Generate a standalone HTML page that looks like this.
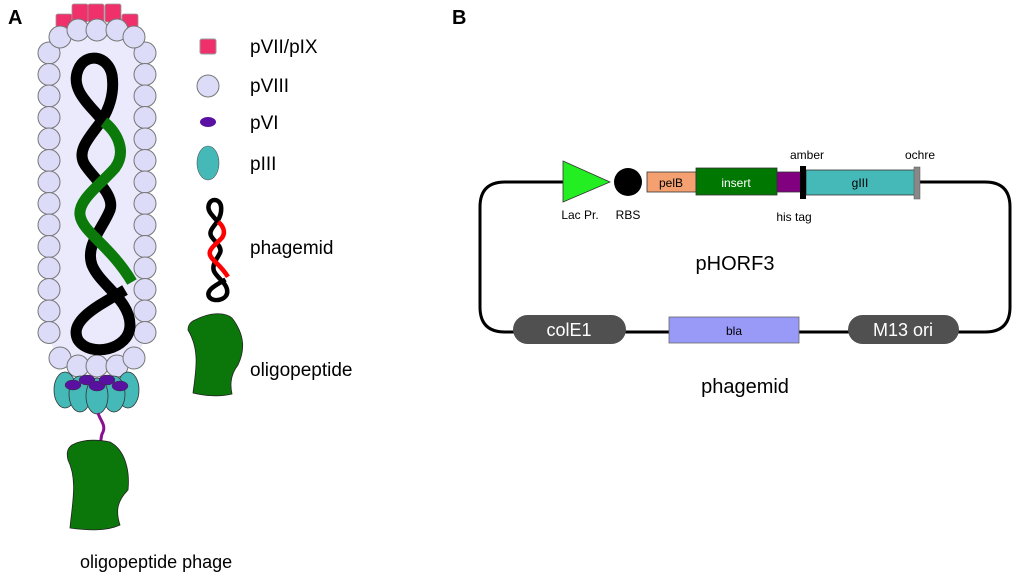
<!DOCTYPE html>
<html><head><meta charset="utf-8"><style>
html,body{margin:0;padding:0;background:#fff;}
svg{display:block;font-family:"Liberation Sans",sans-serif;}
</style></head><body>
<svg id="s" width="1024" height="580" viewBox="0 0 1024 580" xmlns="http://www.w3.org/2000/svg">
<defs>
<path id="hb" d="M102 120 C 90 105, 70 90, 78 70 C 85 52, 108 55, 112 75 C 115 95, 108 110, 102 120 C 92 135, 75 150, 85 165 C 95 180, 115 195, 110 210 C 103 228, 85 245, 92 265 C 100 285, 130 300, 130 325 C 130 350, 90 358, 78 340 C 68 320, 100 305, 125 290"/>
<path id="hg" d="M104 122 C 115 130, 128 150, 115 168 C 100 185, 78 200, 80 215 C 82 232, 110 245, 132 282"/>
</defs>
<text x="8" y="24" font-size="20" font-weight="bold">A</text>
<text x="452" y="24" font-size="20" font-weight="bold">B</text>
<rect x="48" y="28" width="98" height="340" rx="40" fill="#eaeafc"/>
<g fill="#f0306a" stroke="#999" stroke-width="0.8">
<rect x="56" y="14" width="16" height="14" rx="2"/>
<rect x="72" y="4" width="16" height="18" rx="2"/>
<rect x="88" y="4" width="16" height="18" rx="2"/>
<rect x="105" y="4" width="16" height="18" rx="2"/>
<rect x="122" y="14" width="16" height="14" rx="2"/>
</g>
<g id="circ" fill="#dcdcf8" stroke="#777" stroke-width="1"></g>
<g fill="none" stroke-linecap="butt">
<use href="#hb" stroke="#000" stroke-width="11"/>
<use href="#hg" stroke="#0b7a0b" stroke-width="11"/>
</g>
<g fill="#45b8b8" stroke="#333" stroke-width="0.8">
<ellipse cx="65" cy="390" rx="11" ry="18"/>
<ellipse cx="128" cy="390" rx="11" ry="18"/>
<ellipse cx="80" cy="394" rx="11" ry="18"/>
<ellipse cx="114" cy="394" rx="11" ry="18"/>
<ellipse cx="97" cy="396" rx="11" ry="18"/>
</g>
<g fill="#5a10a0" stroke="#333" stroke-width="0.5">
<ellipse cx="73" cy="385" rx="8" ry="5"/>
<ellipse cx="87" cy="380" rx="8" ry="5"/>
<ellipse cx="97" cy="386" rx="8" ry="5"/>
<ellipse cx="107" cy="380" rx="8" ry="5"/>
<ellipse cx="120" cy="386" rx="8" ry="5"/>
</g>
<path d="M98 413 C 100 420, 106 425, 103 432 C 100 437, 102 440, 100 442" stroke="#8a1090" stroke-width="3" fill="none"/>
<path d="M72 445 C 85 438, 100 440, 110 442 C 125 450, 130 470, 128 490 C 118 500, 115 510, 120 525 C 105 532, 85 530, 70 528 C 72 505, 78 480, 68 460 C 66 452, 68 448, 72 445Z" fill="#0b770b" stroke="#222" stroke-width="0.8"/>
<text x="80" y="568" font-size="18">oligopeptide phage</text>
<rect x="200" y="39" width="16" height="15" rx="2" fill="#f0306a" stroke="#999"/>
<circle cx="208" cy="86" r="11" fill="#dcdcf8" stroke="#777"/>
<ellipse cx="208" cy="122" rx="8" ry="5" fill="#5a10a0"/>
<ellipse cx="208" cy="163" rx="11" ry="17" fill="#45b8b8" stroke="#555" stroke-width="0.6"/>
<g fill="none" transform="translate(181.75,180.1) scale(0.35,0.343)">
<use href="#hb" stroke="#000" stroke-width="13"/>
<use href="#hg" stroke="#f00" stroke-width="13"/>
</g>
<path d="M195 320 C 210 312, 225 312, 232 318 C 245 335, 245 350, 238 365 C 230 375, 230 385, 232 394 C 220 397, 205 396, 193 393 C 196 370, 200 350, 188 330 C 188 325, 190 322, 195 320Z" fill="#0b770b" stroke="#222" stroke-width="0.8"/>
<g font-size="19">
<text x="250" y="53">pVII/pIX</text>
<text x="250" y="92">pVIII</text>
<text x="250" y="129">pVI</text>
<text x="250" y="170">pIII</text>
<text x="250" y="254">phagemid</text>
<text x="250" y="376">oligopeptide</text>
</g>
<path d="M563 182 H505 Q480 182 480 207 V307 Q480 332 505 332 H985 Q1010 332 1010 307 V207 Q1010 182 985 182 H920" fill="none" stroke="#000" stroke-width="3"/>
<polygon points="563,161 563,202 610,182" fill="#22ee22" stroke="#333" stroke-width="0.8"/>
<circle cx="628" cy="182" r="14" fill="#000"/>
<rect x="647" y="172" width="49" height="20" fill="#f4a070" stroke="#333" stroke-width="0.8"/>
<rect x="696" y="168" width="81" height="27" fill="#007700" stroke="#333" stroke-width="0.8"/>
<rect x="777" y="172" width="24" height="20" fill="#800080" stroke="#333" stroke-width="0.8"/>
<rect x="806" y="170" width="109" height="25" fill="#45b8b8" stroke="#333" stroke-width="0.8"/>
<rect x="800" y="166" width="6" height="33" fill="#000"/>
<rect x="914" y="167" width="6" height="32" fill="#888" stroke="#555" stroke-width="0.5"/>
<g font-size="12" text-anchor="middle">
<text x="671" y="187">pelB</text>
<text x="736" y="187" fill="#fff">insert</text>
<text x="860" y="187">gIII</text>
<text x="580" y="219">Lac Pr.</text>
<text x="628" y="219">RBS</text>
<text x="794" y="221">his tag</text>
<text x="807" y="159">amber</text>
<text x="920" y="159">ochre</text>
</g>
<text x="735" y="270" font-size="20" text-anchor="middle">pHORF3</text>
<rect x="513" y="315" width="113" height="29" rx="14.5" fill="#505050"/>
<text x="569" y="336" font-size="18" fill="#fff" text-anchor="middle">colE1</text>
<rect x="669" y="317" width="130" height="26" fill="#9999f8" stroke="#666" stroke-width="0.8"/>
<text x="734" y="335" font-size="12" text-anchor="middle">bla</text>
<rect x="848" y="315" width="111" height="29" rx="14.5" fill="#505050"/>
<text x="903" y="336" font-size="18" fill="#fff" text-anchor="middle">M13 ori</text>
<text x="745" y="393" font-size="20" text-anchor="middle">phagemid</text>
</svg>
<script>
var g=document.getElementById('circ'),ns='http://www.w3.org/2000/svg';
function c(x,y){var e=document.createElementNS(ns,'circle');e.setAttribute('cx',x);e.setAttribute('cy',y);e.setAttribute('r',11);g.appendChild(e);}
for(var y=53;y<=350;y+=21.5){c(49,y);c(145,y);}
c(60,37);c(78,30);c(97,30);c(117,30);c(134,37);
c(60,358);c(78,366);c(97,366);c(117,366);c(134,358);
</script>
</body></html>
